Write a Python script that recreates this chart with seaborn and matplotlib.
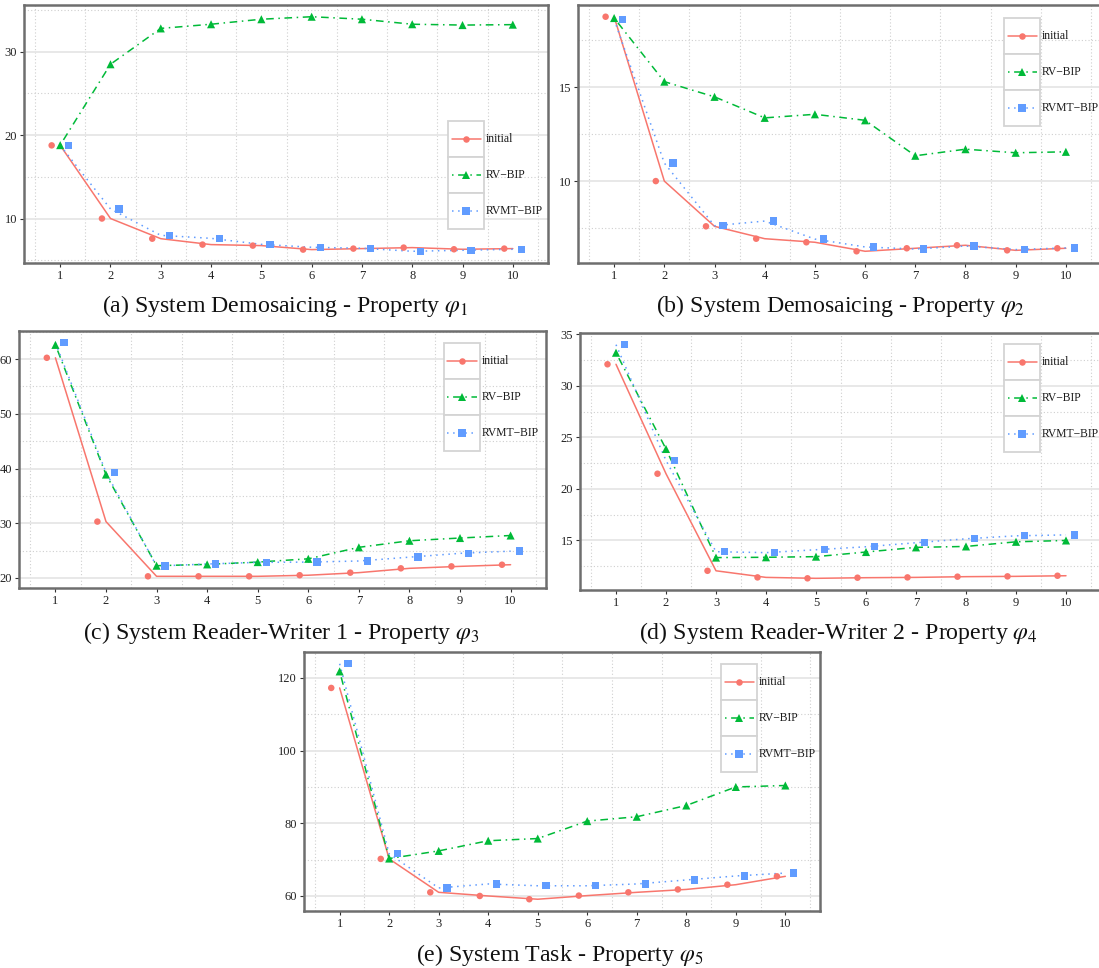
import numpy as np
import pandas as pd
import matplotlib
matplotlib.use("Agg")
import matplotlib.pyplot as plt
from matplotlib.patches import Rectangle
from matplotlib.lines import Line2D
import matplotlib.ticker as ticker
import seaborn as sns

# --- data ---
iters = list(range(1, 11))
methods = ["initial", "RV\u2212BIP", "RVMT\u2212BIP"]

a_initial = [18.77, 10.0, 7.58, 6.87, 6.75, 6.27, 6.39, 6.51, 6.31, 6.39]
a_rv = [18.8, 28.5, 32.8, 33.3, 33.9, 34.2, 33.9, 33.3, 33.2, 33.25]
a_rvmt = [18.77, 11.15, 7.98, 7.62, 6.9, 6.55, 6.43, 6.07, 6.19, 6.31]

b_initial = [18.76, 10.0, 7.59, 6.93, 6.74, 6.26, 6.42, 6.58, 6.31, 6.42]
b_rv = [18.69, 15.3, 14.49, 13.37, 13.56, 13.24, 11.35, 11.70, 11.51, 11.56]
b_rvmt = [18.62, 10.96, 7.62, 7.87, 6.91, 6.49, 6.38, 6.54, 6.35, 6.44]

c_initial = [60.24, 30.3, 20.3, 20.3, 20.3, 20.5, 20.97, 21.76, 22.12, 22.42]
c_rv = [62.6, 38.9, 22.24, 22.48, 22.9, 23.5, 25.6, 26.8, 27.3, 27.76]
c_rvmt = [63.0, 39.3, 22.18, 22.55, 22.85, 22.9, 23.1, 23.8, 24.5, 24.9]

d_initial = [32.08, 21.47, 12.06, 11.42, 11.33, 11.39, 11.42, 11.49, 11.52, 11.58]
d_rv = [33.2, 23.87, 13.34, 13.37, 13.43, 13.88, 14.33, 14.42, 14.87, 15.0]
d_rvmt = [33.98, 22.75, 13.91, 13.82, 14.1, 14.39, 14.78, 15.16, 15.45, 15.54]

e_initial = [117.25, 70.2, 61.0, 60.0, 59.1, 60.1, 61.0, 61.8, 63.1, 65.4]
e_rv = [121.8, 70.3, 72.4, 75.2, 75.8, 80.6, 81.8, 84.9, 90.0, 90.4]
e_rvmt = [123.9, 71.6, 62.2, 63.3, 62.8, 62.8, 63.3, 64.4, 65.5, 66.3]

captions = [
    r"(a) System Demosaicing - Property $\varphi_1$",
    r"(b) System Demosaicing - Property $\varphi_2$",
    r"(c) System Reader-Writer 1 - Property $\varphi_3$",
    r"(d) System Reader-Writer 2 - Property $\varphi_4$",
    r"(e) System Task - Property $\varphi_5$",
]

# --- style ---
palette = dict(zip(methods, ["#F8766D", "#00BA38", "#619CFF"]))
dashes = dict(zip(methods, ["", (1, 3, 5, 3), (1, 3)]))
markers = dict(zip(methods, ["o", "^", "s"]))
msizes = dict(zip(methods, [22, 34, 28]))
dodge = dict(zip(methods, [-0.17, 0.0, 0.17]))

sns.set_style("white")
plt.rcParams["font.family"] = ["Liberation Serif", "DejaVu Serif"]
plt.rcParams["mathtext.fontset"] = "stix"

W, H = 1099, 968
fig = plt.figure(figsize=(W / 100, H / 100), dpi=100)

# left, right, top, bottom (px), y major/minor step, legend offset (from right, from top)
panels = [
    (a_initial, a_rv, a_rvmt, (24, 548, 5, 263), 10, 5, (100, 116), (285, 306)),
    (b_initial, b_rv, b_rvmt, (578, 1101, 5, 263), 5, 2.5, (97, 13), (840, 306)),
    (c_initial, c_rv, c_rvmt, (19, 546, 331, 588), 10, 5, (102, 12), (281, 633)),
    (d_initial, d_rv, d_rvmt, (580, 1101, 333, 590), 5, 2.5, (97, 11), (838, 633)),
    (e_initial, e_rv, e_rvmt, (304, 820, 652, 911), 20, 10, (99, 12), (560, 955)),
]


def draw_legend(ax, box_px, off):
    l, r, t, b = box_px
    aw, ah = r - l, b - t
    key = 36.0
    x0 = 1 - off[0] / aw
    kw, kh = key / aw, key / ah
    for i, m in enumerate(methods):
        y1 = 1 - (off[1] + i * key) / ah
        y0 = y1 - kh
        ax.add_patch(Rectangle((x0, y0), kw, kh, transform=ax.transAxes,
                               facecolor="white", edgecolor="#d4d4d4",
                               linewidth=1.3, zorder=5, clip_on=False))
        yc = (y0 + y1) / 2
        ln = Line2D([x0 + 3.5 / aw, x0 + kw - 3.5 / aw], [yc, yc],
                    transform=ax.transAxes, color=palette[m], linewidth=1.1,
                    zorder=6, clip_on=False)
        if dashes[m]:
            ln.set_dashes(dashes[m])
        ax.add_line(ln)
        ax.add_line(Line2D([x0 + kw / 2], [yc], transform=ax.transAxes,
                           marker=markers[m], color=palette[m],
                           markersize=np.sqrt(msizes[m]), linestyle="none",
                           markeredgewidth=0, zorder=7, clip_on=False))
        ax.text(x0 + kw + 1.5 / aw, yc, m, transform=ax.transAxes, fontsize=8.4,
                va="center", ha="left", color="#1a1a1a", zorder=7,
                family=["Liberation Serif", "DejaVu Serif"])


for ini, rv, rvmt, box, major, minor, loff, cap_xy in panels:
    l, r, t, b = box
    ax = fig.add_axes([l / W, 1 - b / H, (r - l) / W, (b - t) / H])

    df = pd.DataFrame({
        "iter": iters * 3,
        "value": ini + rv + rvmt,
        "method": np.repeat(methods, len(iters)),
    })
    df["x_dodge"] = df["iter"] + df["method"].map(dodge)

    sns.lineplot(data=df, x="iter", y="value", hue="method", style="method",
                 palette=palette, dashes=dashes, linewidth=1.1, ax=ax,
                 legend=False, errorbar=None, zorder=3)
    sns.scatterplot(data=df, x="x_dodge", y="value", hue="method",
                    style="method", markers=markers, size="method",
                    sizes=msizes, palette=palette, linewidth=0, ax=ax,
                    legend=False, zorder=4)

    ax.set_xlim(0.28, 10.70)
    ax.set_xticks(iters)
    ax.set_xticks(np.arange(0.5, 11, 1), minor=True)
    ax.yaxis.set_major_locator(ticker.MultipleLocator(major))
    ax.yaxis.set_minor_locator(ticker.MultipleLocator(minor))
    ax.yaxis.set_major_formatter(ticker.FuncFormatter(lambda v, _: f"{v:g}"))
    ax.set_axisbelow(True)
    ax.grid(which="major", axis="y", color="#e6e6e6", linewidth=1.3, linestyle="-")
    ax.grid(which="minor", axis="both", color="#cfcfcf", linewidth=0.8,
            linestyle=(0, (1, 2)))
    ax.grid(which="major", axis="x", visible=False)
    ax.tick_params(which="major", axis="both", length=3, width=0.8,
                   color="#333333", labelsize=9, labelcolor="#222222",
                   direction="out", pad=2, bottom=True, left=True)
    ax.tick_params(which="minor", length=0)
    for s in ax.spines.values():
        s.set_color("#6e6e6e")
        s.set_linewidth(1.8)
    ax.set_xlabel("")
    ax.set_ylabel("")

    draw_legend(ax, box, loff)

for (ini, rv, rvmt, box, major, minor, loff, cap_xy), cap in zip(panels, captions):
    fig.text(cap_xy[0] / W, 1 - cap_xy[1] / H, cap, ha="center", va="center",
             fontsize=17.2, color="#111111")

fig.savefig("out.png", dpi=100)
